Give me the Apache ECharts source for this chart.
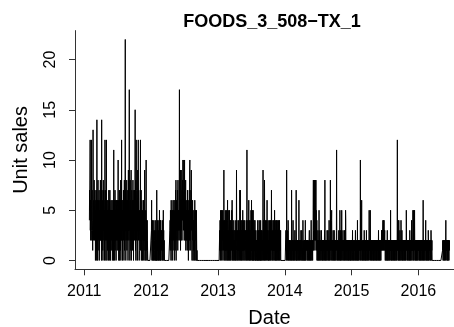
<!DOCTYPE html>
<html>
<head>
<meta charset="utf-8">
<script src="https://cdn.jsdelivr.net/npm/echarts@6/dist/echarts.min.js"></script>
<style>
  html, body { margin: 0; padding: 0; background: #ffffff; }
  #chart { width: 454px; height: 327px; }
</style>
</head>
<body>
<div id="chart"></div>
<script>
// Daily unit sales of one item, Jan 29 2011 - Jun 19 2016.
// Each month is a string of daily values, one base-36 character per day
// (0-9, a=10 ... m=22); spaces only group the days for readability.
const itemId = 'FOODS_3_508\u2212TX_1';
const seriesStart = [2011, 0, 29];
const yTicks = [0, 5, 10, 15, 20];
const yearTicks = [2011, 2012, 2013, 2014, 2015, 2016];

const sales2011 = [
  '475',
  '5c362548c3 2574316d52 46385247',
  '3504627150 e326048253 6170452638 2',
  '52640e3715 2604837261 503c472605',
  '4c25063152 6403725160 7253046153 2',
  '3615042630 b253604715 2630642561',
  '4263a15062 4703526180 425c263504 6',
  '5372604815 26m3705264 8153627049 3',
  '627h350482 6139052746 1538260475',
  '52736f4180 4c72536049 36c5274015 3',
  '426c153704 2635014253 6041529302',
  '3150a24130 4210000000 0000000000 0'
];
const sales2012 = [
  '0036203140 2130042012 3014023102 0',
  '7203140213 0240153024 1040213',
  '2041302513 0120000000 0000000000 0',
  '0000000000 0034152406 3251405236',
  '4253160425 3627180536 2463718254 3',
  '536h425391 4629536274 85a4637a52',
  '4a36253814 2536241735 2604351729 a',
  '3625174935 2043625041 3250416203 5',
  '4230520100 0000000000 0000000000',
  '0000000000 0000000000 0000000000 0',
  '0000000000 0000000000 0000000000',
  '0000000000 0000000000 0000000000 0'
];
const sales2013 = [
  '0000000003 1420531425 0314253041 2',
  '3920413205 1340215302 46031520',
  '2130512403 1402315260 1320412031 2',
  '2031402130 1924031203 1420313207',
  '3170231402 1304152031 4203124013 2',
  '2031402b13 0241302614 0320413025',
  '2160315024 0520314023 1402031202 1',
  '2030140213 0204130230 1402031203 1',
  '2039140213 0820314023 1204261302',
  '1402031204 1320413027 3140213024 1',
  '3024150312 0413024031 4203120413',
  '2041302130 0000000000 0000000000 0'
];
const sales2014 = [
  '0000003120 9121302143 0212021201 1',
  '2011207120 2120412011 20213021',
  '1207202120 2120212061 2021120213 2',
  '0213021104 2012102120 2041202112',
  '1202120211 0212302120 1202412021 2',
  '2021583128 4286184528 2521402120',
  '3120215202 1302120213 2021202120 2',
  '1202130812 0212021203 2120312021 4',
  '2021208212 2045120212 0312021302',
  '1202120213 b202120212 0231202150 3',
  '2021302512 0212302120 2130212054',
  '1202120212 0212021202 1202102120 2'
];
const sales2015 = [
  '1202130212 0211021202 1302120211 0',
  '1402120212 0212120a12 02126012',
  '2021202120 3120212021 2031202120 2',
  '1202125120 2152021202 1202120212',
  '0212021202 1202120212 0212021302 1',
  '2021202120 2123132313 4231424132',
  '3120212021 2021302120 2120212021 2',
  '1502120212 0212021202 1202120212 0',
  '2120212c13 0412041202 1302120412',
  '2031202120 2120212021 2021205212 1',
  '2021202120 2120312021 2021420212',
  '1502150212 5202120212 0212021202 1'
];
const sales2016 = [
  '2120212021 2021202120 2120216202 1',
  '2021202124 0212021202 1203202',
  '1202120213 2021200000 0000000000 0',
  '0000000000 0000000000 0000000000',
  '0000000000 0121021202 1201212024 1',
  '2120212021 202120212'
];

const salesByYear = [
  [2011, sales2011], [2012, sales2012], [2013, sales2013],
  [2014, sales2014], [2015, sales2015], [2016, sales2016]
];

// x is measured in days since Jan 1 2011 (UTC)
const DAY = 86400000;
const origin = Date.UTC(2011, 0, 1);
const startMs = Date.UTC(seriesStart[0], seriesStart[1], seriesStart[2]);

const points = [];
salesByYear.forEach(([yr, months]) => {
  months.forEach((txt, m) => {
    const days = txt.replace(/\s+/g, '');
    const first = Math.max(Date.UTC(yr, m, 1), startMs);
    const nDays = Math.round((Date.UTC(yr, m + 1, 1) - first) / DAY);
    const x0 = (first - origin) / DAY;
    for (let i = 0; i < Math.min(days.length, nDays); i++) {
      points.push([x0 + i, parseInt(days[i], 36)]);
    }
  });
});

// base-graphics style 4% padding on both axes
const xs = points.map(p => p[0]);
const ys = points.map(p => p[1]);
const xMin = Math.min(...xs), xMax = Math.max(...xs);
const yMin = Math.min(...ys), yMax = Math.max(...ys);
const xPad = 0.04 * (xMax - xMin), yPad = 0.04 * (yMax - yMin);

const yearPos = yearTicks.map(y => (Date.UTC(y, 0, 1) - origin) / DAY);

const font = '"Liberation Sans", Arial, Helvetica, sans-serif';
const axisColor = '#333333';

const chart = echarts.init(document.getElementById('chart'), null, { renderer: 'canvas' });
chart.setOption({
  animation: false,
  backgroundColor: '#ffffff',
  title: {
    text: itemId,
    left: 267,
    top: 8,
    textAlign: 'center',
    textStyle: { fontFamily: font, fontSize: 18, fontWeight: 'bold', color: '#000' }
  },
  // the plot region runs past the right edge of the canvas
  grid: {
    left: 75, top: 30.6, width: 388.9, height: 238.7,
    containLabel: false,
    outerBoundsMode: 'none'
  },
  xAxis: {
    type: 'value',
    min: xMin - xPad,
    max: xMax + xPad,
    name: 'Date',
    nameLocation: 'middle',
    nameGap: 39,
    nameTextStyle: { fontFamily: font, fontSize: 20, color: '#000' },
    axisLine: { show: true, onZero: false, lineStyle: { color: axisColor, width: 1 } },
    axisTick: { show: true, length: 6, customValues: yearPos, lineStyle: { color: axisColor, width: 1 } },
    axisLabel: {
      customValues: yearPos,
      margin: 14,
      fontFamily: font, fontSize: 16, color: '#000',
      formatter: v => String(new Date(origin + v * DAY).getUTCFullYear())
    },
    splitLine: { show: false }
  },
  yAxis: {
    type: 'value',
    min: yMin - yPad,
    max: yMax + yPad,
    name: 'Unit sales',
    nameLocation: 'middle',
    nameRotate: 90,
    nameGap: 44,
    nameTextStyle: { fontFamily: font, fontSize: 20, color: '#000' },
    axisLine: { show: true, onZero: false, lineStyle: { color: axisColor, width: 1 } },
    axisTick: { show: true, length: 6, customValues: yTicks, lineStyle: { color: axisColor, width: 1 } },
    axisLabel: { show: false },
    splitLine: { show: false }
  },
  series: [{
    type: 'line',
    data: points,
    showSymbol: false,
    symbol: 'none',
    lineStyle: { color: '#000000', width: 1 },
    clip: true
  }]
});

// y tick labels read bottom-to-top, placed from the axis scale
chart.setOption({
  graphic: yTicks.map(v => ({
    type: 'text',
    x: 51,
    y: chart.convertToPixel({ yAxisIndex: 0 }, v),
    rotation: Math.PI / 2,
    style: {
      text: String(v),
      font: '16px ' + font,
      fill: '#000',
      align: 'center',
      verticalAlign: 'middle'
    }
  }))
});
</script>
</body>
</html>
